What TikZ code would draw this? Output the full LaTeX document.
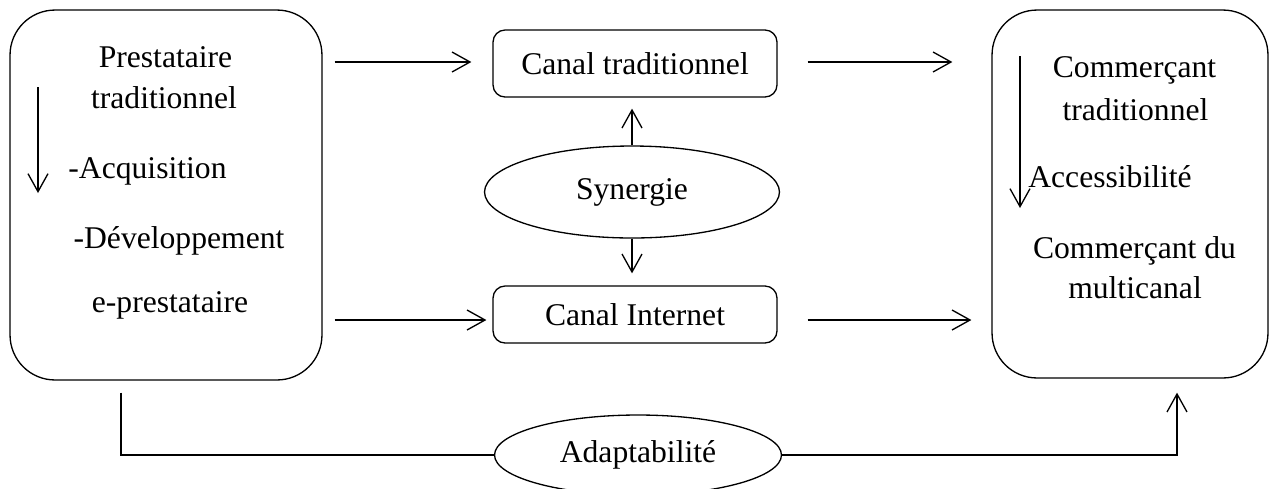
\documentclass[tikz,border=0pt]{standalone}
\usepackage{fontspec}
\setmainfont{Liberation Serif}
\usetikzlibrary{arrows.meta,shapes.geometric,calc}

\begin{document}
\begin{tikzpicture}[>={Straight Barb[length=3.6mm,width=4mm]},x=0.02cm,y=-0.02cm,
  line width=0.75pt,font=\fontsize{18}{22}\selectfont,
  grande/.style={draw,rounded corners=0.9cm,inner sep=0pt},
  canal/.style={draw,rounded corners=0.24cm,minimum width=5.68cm,inner sep=0pt},
  bulle/.style={draw,ellipse,inner sep=0pt},
  txt/.style={anchor=base,inner sep=0pt}]

\useasboundingbox (0,0) rectangle (1270,488);

% Boites principales
\node[grande,minimum width=6.24cm,minimum height=7.4cm] (prest) at (166,195) {};
\node[grande,minimum width=5.52cm,minimum height=7.36cm] (comm) at (1130,194) {};

% Canaux
\node[canal,minimum height=1.34cm] (canaltrad) at (635,63.5) {Canal traditionnel};
\node[canal,minimum height=1.14cm] (canalnet) at (635,314.5) {Canal Internet};

% Ellipses
\node[bulle,minimum width=5.9cm,minimum height=1.84cm] (synergie) at (632,192) {Synergie};
\node[bulle,minimum width=5.74cm,minimum height=1.6cm] (adapt) at (638,455) {Adaptabilité};

% Textes du prestataire
\node[txt] (p1) at (165.5,67) {Prestataire};
\node[txt] (p2) at (164,108) {traditionnel};
\node[txt] (p3) at (147.5,178) {-Acquisition};
\node[txt] (p4) at (179,248) {-Développement};
\node[txt] (p5) at (170,312) {e-prestataire};

% Textes du commercant
\node[txt] (c1) at (1134.5,77) {Commerçant};
\node[txt] (c2) at (1135.5,120) {traditionnel};
\node[txt] (c3) at (1110,187) {Accessibilité};
\node[txt] (c4) at (1134.5,258) {Commerçant du};
\node[txt] (c5) at (1135,298) {multicanal};

% Fleches dans les boites
\coordinate (g1) at (38,87);
\coordinate (g2) at (38,193);
\draw[->] (g1) -- (g2);
\coordinate (d1) at (1020,56);
\coordinate (d2) at (1020,208);
\draw[->] (d1) -- (d2);

% Fleches horizontales
\draw[->] ($(prest.east |- canaltrad.west)+(12,-1.5)$) -- ($(canaltrad.west)+(-21,-1.5)$);
\draw[->] ($(prest.east |- canalnet.west)+(12,5.5)$) -- ($(canalnet.west)+(-6,5.5)$);
\draw[->] ($(canaltrad.east)+(30,-1.5)$) -- ($(comm.west |- canaltrad.east)+(-39,-1.5)$);
\draw[->] ($(canalnet.east)+(30,5.5)$) -- ($(comm.west |- canalnet.east)+(-20,5.5)$);

% Synergie
\draw[->] (synergie.north) -- ($(synergie.north |- canaltrad.south)+(0,11)$);
\draw[->] (synergie.south) -- ($(synergie.south |- canalnet.north)+(0,-12)$);

% Adaptabilite
\coordinate (bg) at ($(prest.south)+(-45,12)$);
\coordinate (bd) at ($(comm.south)+(47,14)$);
\draw (bg) |- (adapt.west);
\draw[->] (adapt.east) -| (bd);

\end{tikzpicture}
\end{document}
